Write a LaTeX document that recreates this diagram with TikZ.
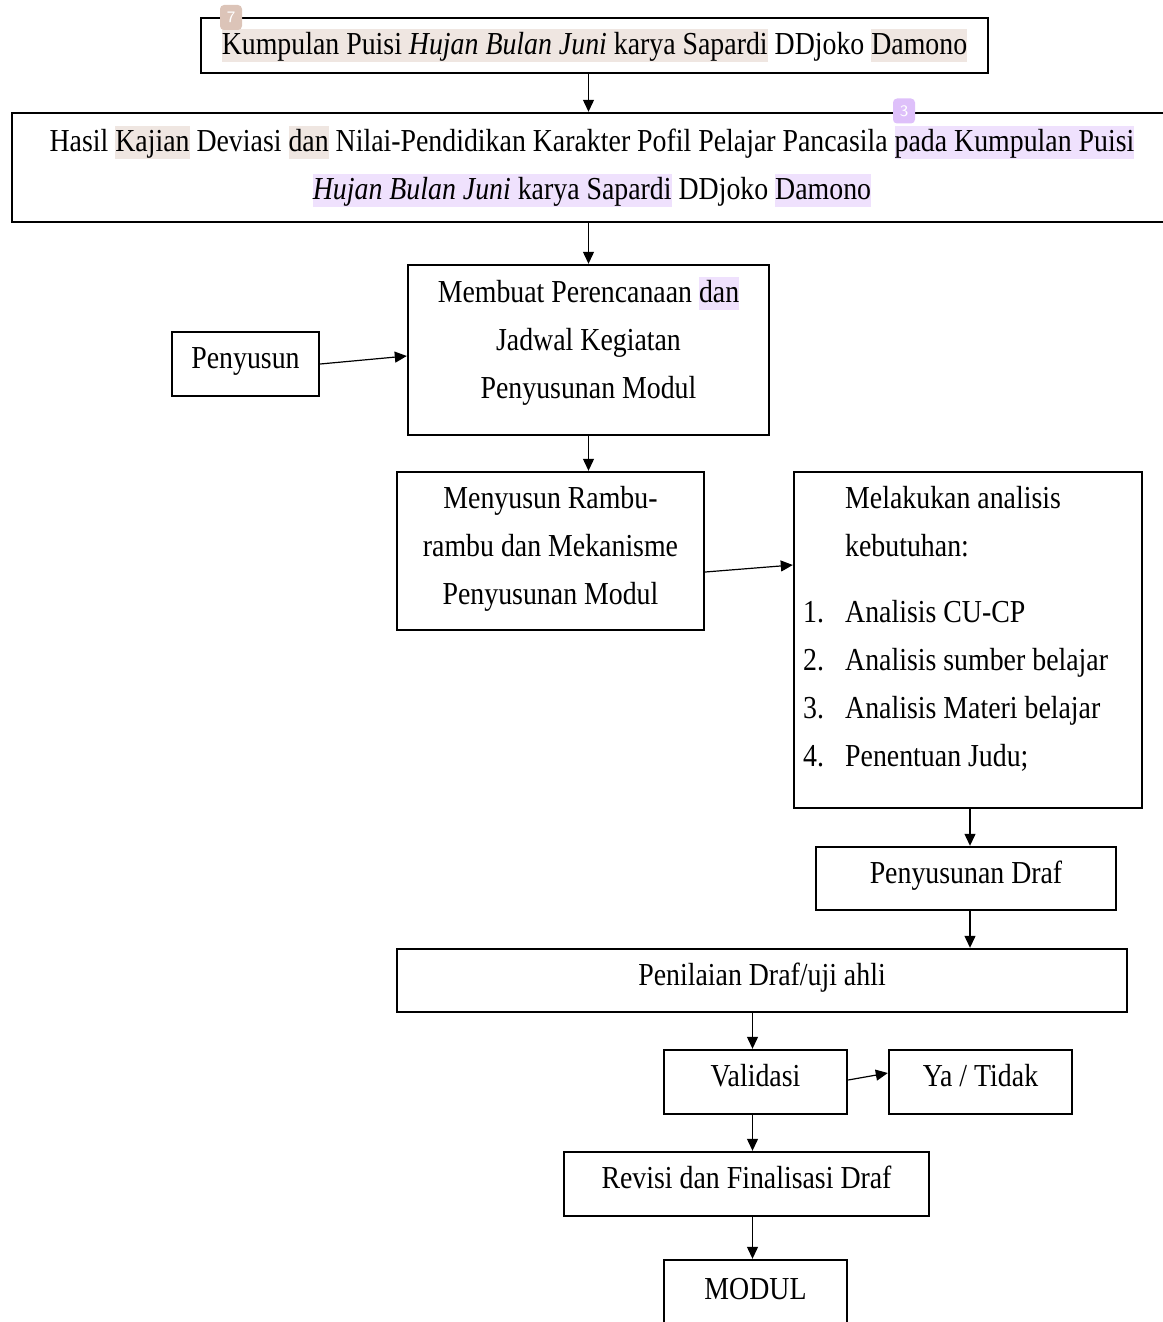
\documentclass[tikz,border=0pt]{standalone}
\usepackage{fontspec}
\setmainfont{Liberation Serif}[FakeStretch=0.87]
\usepackage{xcolor}
\usetikzlibrary{arrows.meta, positioning}
\definecolor{hlbeige}{HTML}{EFE6E1}
\definecolor{hlviolet}{HTML}{EFE1FD}
\definecolor{notebeige}{HTML}{DCC4B8}
\definecolor{noteviolet}{HTML}{DEC0FA}
\newcommand{\hlstrut}{\rule[-3.8pt]{0pt}{16.4pt}}
\newcommand{\hlb}[1]{{\setlength{\fboxsep}{0pt}\colorbox{hlbeige}{\hlstrut#1}}}
\newcommand{\hlv}[1]{{\setlength{\fboxsep}{0pt}\colorbox{hlviolet}{\hlstrut#1}}}

\tikzset{
  box/.style={draw, line width=1.2pt, inner sep=2pt, align=center, font=\fontsize{16}{24}\selectfont},
  onel/.style={text height=11pt, text depth=6.5pt},
  arr/.style={-{Triangle[length=6pt,width=5.5pt]}, line width=0.6pt},
  note/.style={fill=#1, rounded corners=2pt, minimum width=11pt, minimum height=12.5pt, inner sep=0pt, text=white, font=\fontsize{8}{8}\selectfont\sffamily},
}

\begin{document}
\begin{tikzpicture}[x=0.5pt, y=-0.5pt]

%% Page
\useasboundingbox (0,0) rectangle (1162,1322);

%% ── Top: source and study result ─────────────────────────────────────
\node[box, minimum width=393.5pt, minimum height=27.5pt] (judul) at (594.5,45.5)
  {\hlb{Kumpulan Puisi \textit{Hujan Bulan Juni} karya Sapardi} DDjoko \hlb{Damono}};
\node[box, minimum width=580pt, minimum height=54.5pt, text height=16.8pt, text depth=33.2pt] (hasil) at (592,167.5)
  {\begin{tabular}[t]{@{}c@{}}
   Hasil \hlb{Kajian} Deviasi \hlb{dan} Nilai-Pendidikan Karakter Pofil Pelajar Pancasila \hlv{pada Kumpulan Puisi}\\
   \hlv{\textit{Hujan Bulan Juni} karya Sapardi} DDjoko \hlv{Damono}
   \end{tabular}};

%% comment markers
\node[note=notebeige] (note7) at (231,17.5) {7};
\node[note=noteviolet] (note3) at (904,111) {3};

%% ── Planning ─────────────────────────────────────────────────────────
\node[box, minimum width=180.5pt, minimum height=85pt, text height=16.8pt, text depth=64.2pt] (rencana) at (588.5,350)
  {\begin{tabular}[t]{@{}c@{}}
   Membuat Perencanaan \hlv{dan}\\ Jadwal Kegiatan\\ Penyusunan Modul
   \end{tabular}};
\node[box, onel, minimum width=73.5pt, minimum height=32pt] (penyusun) at (245.5,364) {Penyusun};

\node[box, inner ysep=0.5pt, minimum width=153.5pt, minimum height=79pt, text height=16.8pt, text depth=59.7pt] (rambu) at (550.5,551)
  {\begin{tabular}[t]{@{}c@{}}
   Menyusun Rambu-\\ rambu dan Mekanisme\\ Penyusunan Modul
   \end{tabular}};

%% ── Needs analysis ───────────────────────────────────────────────────
\node[box, minimum width=174pt, minimum height=168pt] (analisis) at (968,640) {};
\node[below right=2pt and 5pt of analisis.north west, inner sep=0pt, font=\fontsize{16}{24}\selectfont] (kebutuhan)
  {\begin{tabular}{@{}p{21pt}@{}l@{}}
    & Melakukan analisis\\
    & kebutuhan:\\[9pt]
   1. & Analisis CU-CP\\
   2. & Analisis sumber belajar\\
   3. & Analisis Materi belajar\\
   4. & Penentuan Judu;
  \end{tabular}};

%% ── Drafting and validation ──────────────────────────────────────────
\node[box, onel, minimum width=150pt, minimum height=31.5pt] (draf) at (966,878.5) {Penyusunan Draf};
\node[box, onel, minimum width=365pt, minimum height=31.5pt] (nilai) at (762,980.5) {Penilaian Draf/uji ahli};
\node[box, onel, minimum width=91.5pt, minimum height=32pt] (validasi) at (755.5,1082) {Validasi};
\node[box, onel, minimum width=91.5pt, minimum height=32pt] (yatidak) at (980.5,1082) {Ya / Tidak};
\node[box, onel, minimum width=182.5pt, minimum height=32pt] (revisi) at (746.5,1184) {Revisi dan Finalisasi Draf};
\node[box, onel, minimum width=91.5pt, minimum height=35pt] (modul) at (755.5,1295) {MODUL};

%% ── Arrows ───────────────────────────────────────────────────────────
\draw[arr] (judul.south -| rencana) -- (hasil.north -| rencana);
\draw[arr] (hasil.south -| rencana) -- (rencana.north);
\draw[arr] (penyusun.east) -- ([yshift=-3pt]rencana.west);
\draw[arr] (rencana.south) -- (rambu.north -| rencana.south);
\draw[arr] ([yshift=-10.5pt]rambu.east) -- ([yshift=37.5pt]analisis.west);
\draw[arr] ([xshift=1pt]analisis.south) -- ([xshift=1pt]analisis.south |- draf.north);
\draw[arr] ([xshift=2pt]draf.south) -- ([xshift=2pt]draf.south |- nilai.north);
\draw[arr] ([xshift=-1.5pt]nilai.south -| validasi) -- ([xshift=-1.5pt]validasi.north);
\draw[arr] ([yshift=1pt]validasi.east) -- ([yshift=4.5pt]yatidak.west);
\draw[arr] ([xshift=-1.5pt]validasi.south) -- ([xshift=-1.5pt]validasi.south |- revisi.north);
\draw[arr] ([xshift=-1.5pt]revisi.south -| validasi) -- ([xshift=-1.5pt]modul.north);

\end{tikzpicture}
\end{document}
